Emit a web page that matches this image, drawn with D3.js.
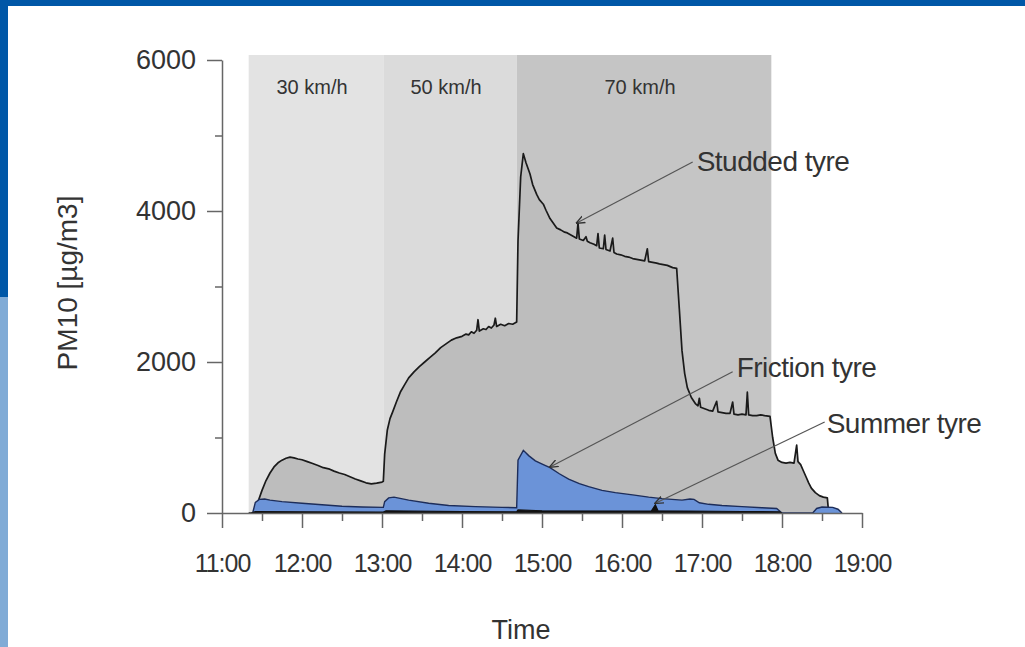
<!DOCTYPE html>
<html>
<head>
<meta charset="utf-8">
<script src="https://cdn.jsdelivr.net/npm/d3@7"></script>
<style>
  body { margin: 0; background: #fff; }
  svg { display: block; }
  text { font-family: "Liberation Sans", Arial, sans-serif; fill: #333; }
</style>
</head>
<body>
<svg id="chart" width="1025" height="647"></svg>
<script>
// speed phases of the test (start, end, label)
const phases = [
    { start: "11:20", end: "13:01", label: "30 km/h", color: "#e3e3e3" },
    { start: "13:01", end: "14:41", label: "50 km/h", color: "#dbdbdb" },
    { start: "14:41", end: "17:52", label: "70 km/h", color: "#c5c5c5" }
];

const studded = [
    ["11:20", 0], ["11:24", 0], ["11:27", 150], ["11:30", 300], ["11:33", 430], ["11:36", 530],
    ["11:39", 610], ["11:42", 665], ["11:45", 700], ["11:48", 725], ["11:51", 740], ["11:54", 730],
    ["11:57", 715], ["12:00", 705], ["12:04", 680], ["12:08", 655], ["12:12", 630], ["12:16", 600],
    ["12:20", 585], ["12:24", 555], ["12:28", 530], ["12:32", 510], ["12:36", 480], ["12:40", 450],
    ["12:44", 425], ["12:48", 400], ["12:52", 385], ["12:56", 395], ["13:00", 410], ["13:01", 420],
    ["13:02", 780], ["13:04", 1100], ["13:06", 1250], ["13:08", 1340], ["13:11", 1480], ["13:14", 1610],
    ["13:17", 1700], ["13:20", 1790], ["13:24", 1870], ["13:28", 1940], ["13:32", 2000], ["13:36", 2060],
    ["13:40", 2120], ["13:44", 2190], ["13:48", 2240], ["13:52", 2290], ["13:56", 2320], ["14:00", 2340],
    ["14:03", 2370], ["14:05", 2360], ["14:07", 2400], ["14:09", 2380], ["14:11", 2420], ["14:12", 2560],
    ["14:13", 2410], ["14:16", 2440], ["14:18", 2430], ["14:20", 2470], ["14:22", 2450], ["14:24", 2490],
    ["14:25", 2580], ["14:26", 2470], ["14:29", 2500], ["14:32", 2480], ["14:35", 2510], ["14:38", 2500],
    ["14:41", 2530], ["14:42", 3600], ["14:44", 4450], ["14:46", 4760], ["14:48", 4640], ["14:51", 4490],
    ["14:53", 4350], ["14:56", 4220], ["14:58", 4150], ["15:01", 4090], ["15:03", 4010], ["15:06", 3900],
    ["15:08", 3850], ["15:11", 3775], ["15:14", 3750], ["15:17", 3720], ["15:19", 3710], ["15:22", 3680],
    ["15:24", 3660], ["15:26", 3640], ["15:27", 3840], ["15:28", 3630], ["15:31", 3610], ["15:33", 3660],
    ["15:34", 3600], ["15:36", 3580], ["15:39", 3560], ["15:41", 3540], ["15:42", 3700], ["15:43", 3510],
    ["15:46", 3500], ["15:47", 3680], ["15:48", 3490], ["15:51", 3470], ["15:53", 3640], ["15:54", 3450],
    ["15:56", 3430], ["15:59", 3420], ["16:02", 3400], ["16:05", 3390], ["16:08", 3370], ["16:11", 3360],
    ["16:14", 3350], ["16:17", 3340], ["16:19", 3500], ["16:20", 3330], ["16:23", 3320], ["16:26", 3310],
    ["16:28", 3300], ["16:31", 3290], ["16:34", 3280], ["16:38", 3250], ["16:41", 3240], ["16:43", 2700],
    ["16:45", 2150], ["16:47", 1850], ["16:49", 1660], ["16:52", 1530], ["16:55", 1450], ["16:57", 1420],
    ["16:58", 1520], ["16:59", 1400], ["17:02", 1380], ["17:05", 1360], ["17:08", 1350], ["17:11", 1480],
    ["17:12", 1340], ["17:15", 1330], ["17:18", 1320], ["17:21", 1320], ["17:23", 1470], ["17:24", 1310],
    ["17:27", 1300], ["17:30", 1310], ["17:33", 1300], ["17:34", 1600], ["17:35", 1300], ["17:38", 1290],
    ["17:41", 1290], ["17:44", 1300], ["17:47", 1290], ["17:51", 1280], ["17:53", 1000], ["17:55", 790],
    ["17:57", 700], ["18:00", 670], ["18:03", 660], ["18:06", 670], ["18:09", 660], ["18:11", 900],
    ["18:12", 680], ["18:14", 640], ["18:16", 560], ["18:18", 480], ["18:20", 400], ["18:22", 330],
    ["18:25", 270], ["18:28", 230], ["18:31", 210], ["18:34", 200], ["18:35", 0]
];

const friction = [
    ["11:23", 0], ["11:25", 140], ["11:28", 180], ["11:32", 185], ["11:36", 170], ["11:45", 150],
    ["12:00", 130], ["12:15", 110], ["12:30", 90], ["12:45", 80], ["13:01", 75], ["13:02", 150],
    ["13:05", 200], ["13:09", 210], ["13:20", 170], ["13:35", 130], ["13:50", 100], ["14:10", 85],
    ["14:30", 75], ["14:41", 70], ["14:42", 700], ["14:46", 830], ["14:50", 760], ["14:55", 690],
    ["15:01", 640], ["15:06", 600], ["15:13", 520], ["15:20", 450], ["15:28", 390], ["15:35", 350],
    ["15:45", 300], ["15:55", 270], ["16:08", 240], ["16:20", 210], ["16:30", 190], ["16:45", 170],
    ["16:51", 185], ["16:54", 180], ["16:58", 135], ["17:05", 115], ["17:15", 100], ["17:30", 85],
    ["17:45", 70], ["17:56", 60], ["18:00", 0], ["18:23", 0], ["18:26", 60], ["18:30", 80],
    ["18:38", 75], ["18:42", 50], ["18:45", 0]
];

const summer = [
    ["11:22", 0], ["11:25", 20], ["12:00", 15], ["13:01", 12], ["13:03", 30], ["14:00", 18],
    ["14:41", 15], ["14:42", 40], ["15:00", 30], ["16:22", 25], ["16:25", 110], ["16:27", 30],
    ["17:30", 20], ["17:58", 15], ["18:00", 0]
];

const yMajor = [0, 2000, 4000, 6000];
const yMinor = [1000, 3000, 5000];
const xMajor = ["11:00", "12:00", "13:00", "14:00", "15:00", "16:00", "17:00", "18:00", "19:00"];
const xMinor = ["11:30", "12:30", "13:30", "14:30", "15:30", "16:30", "17:30", "18:30"];

const annotations = [
    { label: "Studded tyre", from: ["16:53", 4650], to: ["15:26", 3840], dx: 4, dy: 9 },
    { label: "Friction tyre", from: ["17:23", 1870], to: ["15:06", 610], dx: 4, dy: 5 },
    { label: "Summer tyre", from: ["18:32", 1205], to: ["16:25", 130], dx: 2, dy: 11 }
];

const parseTime = d3.timeParse("%H:%M");

function drawChart() {
    const svg = d3.select("#chart");

    // slide frame
    svg.append("rect").attr("x", 0).attr("y", 0).attr("width", 1025).attr("height", 6).attr("fill", "#0057a7");
    svg.append("rect").attr("x", 0).attr("y", 0).attr("width", 8).attr("height", 297).attr("fill", "#0057a7");
    svg.append("rect").attr("x", 0).attr("y", 297).attr("width", 8).attr("height", 350).attr("fill", "#80abd6");

    const x = d3.scaleTime()
        .domain([parseTime("11:00"), parseTime("19:00")])
        .range([222, 862]);

    const y = d3.scaleLinear()
        .domain([0, 6000])
        .range([513, 60]);

    // speed phases
    svg.append("g").selectAll("rect")
        .data(phases)
        .join("rect")
        .attr("x", d => x(parseTime(d.start)))
        .attr("y", y(6000) - 5)
        .attr("width", d => x(parseTime(d.end)) - x(parseTime(d.start)))
        .attr("height", y(0) - y(6000) + 5)
        .attr("fill", d => d.color);

    svg.append("g").selectAll("text")
        .data(phases)
        .join("text")
        .attr("x", d => (x(parseTime(d.start)) + x(parseTime(d.end))) / 2 - 4)
        .attr("y", 94)
        .attr("text-anchor", "middle")
        .style("font-size", "20px")
        .text(d => d.label);

    const area = d3.area()
        .x(d => x(parseTime(d[0])))
        .y0(y(0))
        .y1(d => y(d[1]));

    const line = d3.line()
        .x(d => x(parseTime(d[0])))
        .y(d => y(d[1]));

    // studded tyre
    svg.append("path")
        .datum(studded)
        .attr("fill", "#bdbdbd")
        .attr("d", area);
    svg.append("path")
        .datum(studded)
        .attr("fill", "none")
        .attr("stroke", "#1a1a1a")
        .attr("stroke-width", 1.7)
        .attr("stroke-linejoin", "round")
        .attr("d", line);

    // friction tyre
    svg.append("path")
        .datum(friction)
        .attr("fill", "#6b93d8")
        .attr("d", area);
    svg.append("path")
        .datum(friction)
        .attr("fill", "none")
        .attr("stroke", "#1d2d5a")
        .attr("stroke-width", 1.4)
        .attr("d", line);

    // summer tyre
    svg.append("path")
        .datum(summer)
        .attr("fill", "#111")
        .attr("stroke", "#111")
        .attr("stroke-width", 1.2)
        .attr("d", area);

    // y axis
    const yAxis = svg.append("g")
        .attr("transform", "translate(222,0)")
        .call(d3.axisLeft(y).tickValues(yMajor).tickSize(15).tickSizeOuter(0).tickPadding(11)
            .tickFormat(d3.format("d")));
    yAxis.selectAll("text").style("font-size", "27px").attr("fill", "#333");
    svg.append("g")
        .attr("transform", "translate(222,0)")
        .call(d3.axisLeft(y).tickValues(yMinor).tickSize(7).tickFormat(""))
        .select(".domain").remove();

    // x axis
    const xAxis = svg.append("g")
        .attr("transform", `translate(0,${y(0)})`)
        .call(d3.axisBottom(x).tickValues(xMajor.map(parseTime)).tickSize(15).tickSizeOuter(0)
            .tickFormat(d3.timeFormat("%H:%M")));
    xAxis.selectAll("text")
        .style("font-size", "25px")
        .style("letter-spacing", "-1px")
        .attr("fill", "#333")
        .attr("dy", null)
        .attr("y", 59);
    svg.append("g")
        .attr("transform", `translate(0,${y(0)})`)
        .call(d3.axisBottom(x).tickValues(xMinor.map(parseTime)).tickSize(8).tickFormat(""))
        .select(".domain").remove();

    svg.selectAll(".domain, .tick line")
        .attr("stroke", "#666")
        .attr("stroke-width", 1.5);

    // axis titles
    svg.append("text")
        .attr("transform", "translate(77,283) rotate(-90)")
        .attr("text-anchor", "middle")
        .style("font-size", "28px")
        .text("PM10 [µg/m3]");

    svg.append("text")
        .attr("x", 521)
        .attr("y", 639)
        .attr("text-anchor", "middle")
        .style("font-size", "27px")
        .text("Time");

    // annotations
    svg.append("defs").append("marker")
        .attr("id", "arrow")
        .attr("viewBox", "0 0 10 10")
        .attr("refX", 9)
        .attr("refY", 5)
        .attr("markerWidth", 9)
        .attr("markerHeight", 9)
        .attr("markerUnits", "userSpaceOnUse")
        .attr("orient", "auto")
        .append("path")
        .attr("d", "M0,1 L10,5 L0,9")
        .attr("fill", "none")
        .attr("stroke", "#333")
        .attr("stroke-width", 1.5);

    annotations.forEach(a => {
        const x1 = x(parseTime(a.from[0])), y1 = y(a.from[1]);
        svg.append("line")
            .attr("x1", x1)
            .attr("y1", y1)
            .attr("x2", x(parseTime(a.to[0])))
            .attr("y2", y(a.to[1]))
            .attr("stroke", "#555")
            .attr("stroke-width", 1.2)
            .attr("marker-end", "url(#arrow)");
        svg.append("text")
            .attr("x", x1 + a.dx)
            .attr("y", y1 + a.dy)
            .style("font-size", "28px")
            .style("letter-spacing", "-0.5px")
            .text(a.label);
    });
}

drawChart();
</script>
</body>
</html>
